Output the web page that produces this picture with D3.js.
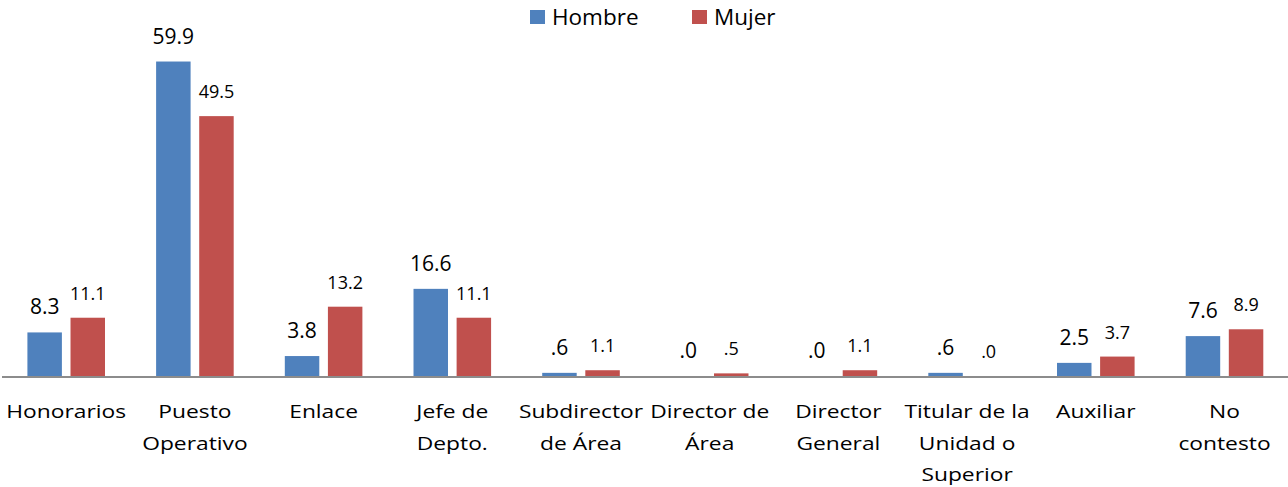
<!DOCTYPE html>
<html>
<head>
<meta charset="utf-8">
<script src="https://cdn.jsdelivr.net/npm/d3@7"></script>
<style>
  html, body { margin: 0; padding: 0; background: #fff; }
  svg { display: block; font-family: "Open Sans", sans-serif; }
</style>
</head>
<body>
<svg></svg>
<script>
// categories (line-wrapped as in the picture) and the two series
var categories = [
  ["Honorarios"],
  ["Puesto", "Operativo"],
  ["Enlace"],
  ["Jefe de", "Depto."],
  ["Subdirector", "de Área"],
  ["Director de", "Área"],
  ["Director", "General"],
  ["Titular de la", "Unidad o", "Superior"],
  ["Auxiliar"],
  ["No", "contesto"]
];
var series = ["Hombre", "Mujer"];
var hombre = [8.3, 59.9, 3.8, 16.6, 0.6, 0.0, 0.0, 0.6, 2.5, 7.6];
var mujer = [11.1, 49.5, 13.2, 11.1, 1.1, 0.5, 1.1, 0.0, 3.7, 8.9];
var colors = ["#4F81BD", "#C0504D"];

var svgWidth = 1288, svgHeight = 487;
var baseY = 376;

var svg = d3.select("svg")
    .attr("width", svgWidth)
    .attr("height", svgHeight);

var keys = categories.map(function(d, i) { return i; });

var x0 = d3.scaleBand()
    .domain(keys)
    .range([1.85, 1288.85])
    .paddingInner(0)
    .paddingOuter(0);

var x1 = d3.scaleBand()
    .domain(series)
    .range([0, x0.bandwidth()])
    .paddingInner(0.2)
    .paddingOuter(0.593);

var y = d3.scaleLinear()
    .domain([0, 60])
    .range([baseY, 61]);

var rows = keys.map(function(i) {
  return [
    { s: "Hombre", v: hombre[i], c: colors[0] },
    { s: "Mujer", v: mujer[i], c: colors[1] }
  ];
});

var fmt = function(v) {
  return d3.format(".1f")(v).replace(/^0\./, ".");
};

var groups = svg.selectAll("g.cat")
    .data(rows)
    .enter()
    .append("g")
    .attr("class", "cat")
    .attr("transform", function(d, i) {
      return "translate(" + x0(i) + ",0)";
    });

groups.selectAll("rect")
    .data(function(d) { return d; })
    .enter()
    .append("rect")
    .attr("x", function(d) { return x1(d.s); })
    .attr("y", function(d) { return y(d.v); })
    .attr("width", x1.bandwidth())
    .attr("height", function(d) { return baseY - y(d.v); })
    .attr("fill", function(d) { return d.c; });

// value labels
groups.selectAll("text.val")
    .data(function(d) { return d; })
    .enter()
    .append("text")
    .attr("class", "val")
    .attr("x", function(d) { return x1(d.s) + x1.bandwidth() / 2; })
    .attr("y", function(d) { return y(d.v) - 18; })
    .attr("text-anchor", "middle")
    .attr("font-size", function(d) { return d.s == "Hombre" ? 21 : 18; })
    .attr("fill", "#000")
    .text(function(d) { return fmt(d.v); });

// axis line
svg.append("line")
    .attr("x1", 2)
    .attr("x2", svgWidth)
    .attr("y1", baseY + 1)
    .attr("y2", baseY + 1)
    .attr("stroke", "#8c8c8c")
    .attr("stroke-width", 2);

// category labels (horizontally stretched like the original)
var catLabels = svg.selectAll("g.lab")
    .data(categories)
    .enter()
    .append("g")
    .attr("class", "lab")
    .attr("transform", function(d, i) {
      return "translate(" + (x0(i) + x0.bandwidth() / 2) + ",418) scale(1.2,1)";
    });

catLabels.selectAll("text")
    .data(function(d) { return d; })
    .enter()
    .append("text")
    .attr("x", 0)
    .attr("y", function(d, j) { return j * 31.7; })
    .attr("text-anchor", "middle")
    .attr("font-size", 19)
    .attr("fill", "#000")
    .text(function(d) { return d; });

// legend
var legendX = [530, 692];
var legend = svg.selectAll("g.leg")
    .data(series)
    .enter()
    .append("g")
    .attr("class", "leg")
    .attr("transform", function(d, i) {
      return "translate(" + legendX[i] + ",0)";
    });

legend.append("rect")
    .attr("x", 0)
    .attr("y", 10)
    .attr("width", 15)
    .attr("height", 14)
    .attr("fill", function(d, i) { return colors[i]; });

legend.append("text")
    .attr("x", 22)
    .attr("y", 25)
    .attr("font-size", 22.5)
    .attr("fill", "#000")
    .text(function(d) { return d; });
</script>
</body>
</html>
